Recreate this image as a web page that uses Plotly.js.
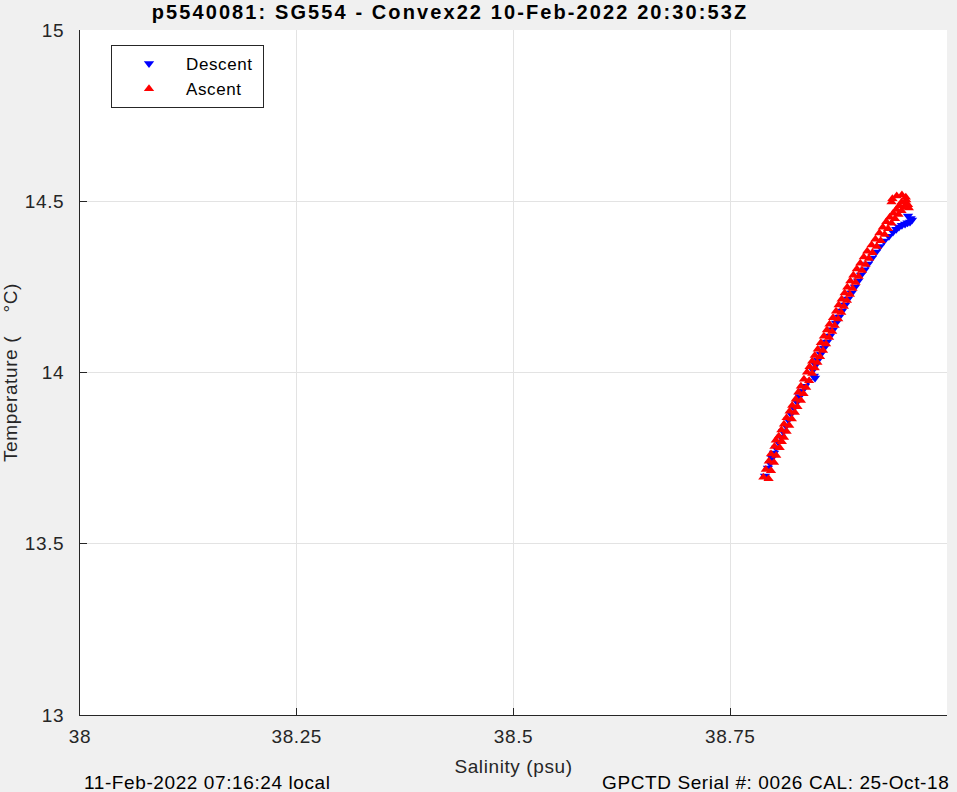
<!DOCTYPE html>
<html>
<head>
<meta charset="utf-8">
<script src="https://cdn.plot.ly/plotly-3.0.1.min.js"></script>
<style>
html,body{margin:0;padding:0;background:#f0f0f0;}
#chart{width:957px;height:792px;}
text{letter-spacing:0.6px;}
.gtitle{letter-spacing:2.1px !important;}
</style>
</head>
<body>
<div id="chart"></div>
<script>
// Descent (blue) salinity / temperature
const descentSal = [38.7901,38.7935,38.7960,38.7982,38.8005,38.8028,38.8055,38.8085,38.8110,38.8143,38.8170,38.8201,38.8235,38.8270,38.8300,38.8328,38.8360,38.8397,38.8478,38.8465,38.8454,38.8485,38.8512,38.8545,38.8581,38.8615,38.8651,38.8685,38.8720,38.8755,38.8789,38.8825,38.8858,38.8900,38.8939,38.8975,38.9008,38.9050,38.9089,38.9135,38.9181,38.9225,38.9273,38.9330,38.9377,38.9415,38.9446,38.9480,38.9516,38.9545,38.9573,38.9596,38.9580,38.9550];
const descentTemp = [13.6978,13.7212,13.7350,13.7504,13.7650,13.7796,13.7960,13.8117,13.8280,13.8438,13.8610,13.8788,13.8960,13.9139,13.9300,13.9460,13.9600,13.9752,13.9839,13.9900,14.0073,14.0220,14.0365,14.0540,14.0715,14.0890,14.1066,14.1250,14.1445,14.1620,14.1796,14.1970,14.2146,14.2320,14.2496,14.2670,14.2847,14.3000,14.3168,14.3340,14.3518,14.3680,14.3839,14.3980,14.4102,14.4180,14.4248,14.4300,14.4336,14.4370,14.4394,14.4453,14.4500,14.4569];
// Ascent (red) salinity / temperature
const ascentSal = [38.7882,38.7942,38.7910,38.7970,38.7945,38.8005,38.7970,38.8030,38.8010,38.8070,38.8025,38.8095,38.8060,38.8120,38.8090,38.8150,38.8120,38.8180,38.8150,38.8210,38.8185,38.8245,38.8215,38.8275,38.8255,38.8315,38.8285,38.8345,38.8315,38.8375,38.8350,38.8410,38.8385,38.8445,38.8415,38.8475,38.8445,38.8505,38.8475,38.8535,38.8510,38.8570,38.8545,38.8605,38.8580,38.8640,38.8615,38.8675,38.8645,38.8705,38.8685,38.8745,38.8720,38.8780,38.8750,38.8810,38.8785,38.8845,38.8820,38.8880,38.8850,38.8910,38.8885,38.8945,38.8920,38.8980,38.8960,38.9020,38.9000,38.9060,38.9040,38.9100,38.9080,38.9140,38.9130,38.9190,38.9175,38.9235,38.9220,38.9280,38.9260,38.9320,38.9300,38.9360,38.9340,38.9400,38.9380,38.9440,38.9415,38.9475,38.9450,38.9510,38.9475,38.9535,38.9530,38.9525,38.9480,38.9420,38.9370,38.9360,38.9560,38.9550];
const ascentTemp = [13.6940,13.6900,13.7170,13.7130,13.7410,13.7370,13.7620,13.7580,13.7840,13.7800,13.8020,13.7980,13.8140,13.8100,13.8320,13.8280,13.8490,13.8450,13.8680,13.8640,13.8870,13.8830,13.9040,13.9000,13.9220,13.9180,13.9420,13.9380,13.9600,13.9560,13.9800,13.9760,14.0010,13.9970,14.0170,14.0130,14.0330,14.0290,14.0500,14.0460,14.0680,14.0640,14.0870,14.0830,14.1060,14.1020,14.1240,14.1200,14.1410,14.1370,14.1600,14.1560,14.1790,14.1750,14.1970,14.1930,14.2140,14.2100,14.2320,14.2280,14.2490,14.2450,14.2670,14.2630,14.2840,14.2800,14.3020,14.2980,14.3190,14.3150,14.3370,14.3330,14.3540,14.3500,14.3720,14.3680,14.3890,14.3850,14.4070,14.4030,14.4240,14.4200,14.4400,14.4360,14.4530,14.4490,14.4650,14.4610,14.4760,14.4720,14.4870,14.4830,14.4970,14.4930,14.5040,14.5120,14.5180,14.5150,14.5070,14.4980,14.4800,14.4900];

const xTickVals = [38, 38.25, 38.5, 38.75, 39];
const xTickText = ['38', '38.25', '38.5', '38.75', '39'];
const yTickVals = [13, 13.5, 14, 14.5, 15];
const yTickText = ['13', '13.5', '14', '14.5', '15'];

const titleText = 'p5540081: SG554 - Convex22 10-Feb-2022 20:30:53Z';
const xTitle = 'Salinity (psu)';
const yTitle = 'Temperature (\u00a0\u00a0\u00a0\u00a0°C)';
const leftNote = '11-Feb-2022 07:16:24 local';
const rightNote = 'GPCTD Serial #: 0026 CAL: 25-Oct-18';

const FONT = 'Liberation Sans, Arial, sans-serif';
const INK = '#262626';

const traces = [
  {x: descentSal, y: descentTemp, name: 'Descent\u00a0', type: 'scatter', mode: 'markers',
   marker: {symbol: 'triangle-down', size: 9, color: '#0000ff'}},
  {x: ascentSal, y: ascentTemp, name: 'Ascent\u00a0', type: 'scatter', mode: 'markers',
   marker: {symbol: 'triangle-up', size: 9, color: '#ff0000'}}
];

const layout = {
  width: 957, height: 792,
  margin: {l: 80, r: 10, t: 30, b: 77, pad: 0},
  paper_bgcolor: '#f0f0f0',
  plot_bgcolor: '#ffffff',
  font: {family: FONT, size: 19, color: INK},
  title: {text: '<b>' + titleText + '</b>', font: {family: FONT, size: 20, color: '#000000'},
          x: 450 / 957, xref: 'container', xanchor: 'center', y: 1 - 11.5 / 792, yref: 'container', yanchor: 'middle'},
  showlegend: true,
  legend: {x: 31 / 867, y: 1 - 15 / 685, xanchor: 'left', yanchor: 'top',
           bgcolor: '#ffffff', bordercolor: INK, borderwidth: 1,
           font: {family: FONT, size: 17, color: '#000000'}, itemwidth: 64, tracegroupgap: 0},
  xaxis: {range: [38, 39], tickvals: xTickVals, ticktext: xTickText, ticks: 'inside', ticklen: 7,
          tickcolor: INK, showline: true, linecolor: INK, linewidth: 1, mirror: false,
          showgrid: true, gridcolor: '#e3e3e3', zeroline: false, ticklabelstandoff: 4,
          tickfont: {family: FONT, size: 19, color: INK},
          title: {text: xTitle, font: {family: FONT, size: 19, color: INK}, standoff: 13}},
  yaxis: {range: [13, 15], tickvals: yTickVals, ticktext: yTickText, ticks: 'inside', ticklen: 7,
          tickcolor: INK, showline: true, linecolor: INK, linewidth: 1, mirror: false,
          showgrid: true, gridcolor: '#e3e3e3', zeroline: false, ticklabelstandoff: 11,
          tickfont: {family: FONT, size: 19, color: INK},
          title: {text: yTitle, font: {family: FONT, size: 19, color: INK}, standoff: 14}},
  annotations: [
    {text: leftNote, xref: 'paper', yref: 'paper', x: 2 / 867, y: -67 / 685, xanchor: 'left', yanchor: 'middle',
     showarrow: false, font: {family: FONT, size: 19, color: '#000000'}},
    {text: rightNote, xref: 'paper', yref: 'paper', x: 871 / 867, y: -67 / 685, xanchor: 'right', yanchor: 'middle',
     showarrow: false, font: {family: FONT, size: 19, color: '#000000'}}
  ]
};

Plotly.newPlot('chart', traces, layout, {displayModeBar: false, staticPlot: true});
</script>
</body>
</html>
